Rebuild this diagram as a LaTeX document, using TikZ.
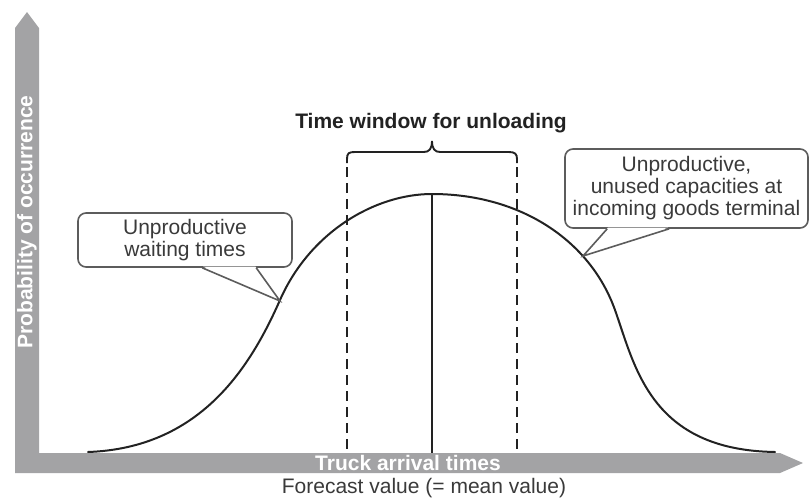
\documentclass[tikz,border=0pt]{standalone}
\usepackage{fontspec}
\setmainfont{Liberation Sans}
\usetikzlibrary{calc}
\definecolor{axisgray}{HTML}{A3A3A5}
\definecolor{ink}{HTML}{222222}
\definecolor{textgray}{HTML}{3A3A3A}
\definecolor{boxline}{HTML}{5C5C5C}

\begin{document}
\begin{tikzpicture}[x=1pt,y=-1pt,
  curveline/.style={draw=ink, line width=2pt},
  windowline/.style={draw=ink, line width=1.9pt, dash pattern=on 10pt off 6pt, dash phase=-4pt},
  braceline/.style={draw=ink, line width=1.9pt},
  calloutbox/.style={draw=boxline, line width=1.6pt, rounded corners=8pt, fill=white,
    align=center, text=textgray, font=\fontsize{21}{22}\selectfont, inner sep=0pt},
  pointerline/.style={draw=boxline, line width=1.6pt, line join=miter},
  axislabel/.style={text=white, font=\bfseries\fontsize{21}{22}\selectfont, inner sep=0pt},
  plainlabel/.style={text=textgray, font=\fontsize{21}{22}\selectfont, inner sep=0pt},
  titlelabel/.style={text=ink, font=\bfseries\fontsize{21}{22}\selectfont, inner sep=0pt},
]
\useasboundingbox (0,0) rectangle (811,501);

% L-shaped axis band with pointed ends
\fill[axisgray] (15,473) -- (15,28) -- (27,12) -- (39,28) -- (39,453)
  -- (780,453) -- (803,463) -- (780,473) -- cycle;
\node[axislabel, rotate=90] (ylabel) at (27,222) {Probability of occurrence};
\node[axislabel] (xlabel) at (408,463) {Truck arrival times};
\node[plainlabel] (forecast) at (424,488) {Forecast value (= mean value)};

% key points
\coordinate (leftend) at (88,452);
\coordinate (leftturn) at (280,300);
\coordinate (peak) at (432,194);
\coordinate (rightturn) at (615,310);
\coordinate (rightend) at (775,452);
\coordinate (meanfoot) at (432,453);
\coordinate (wl) at (347,163);
\coordinate (wlfoot) at (347,453);
\coordinate (wr) at (517,163);
\coordinate (wrfoot) at (517,453);
\coordinate (tipL) at (280,301);
\coordinate (tipR) at (583,256);

% distribution of arrival times
\draw[curveline, line cap=round] (leftend)
  .. controls (200,448) and (250,368) .. (leftturn)
  .. controls (310,232) and (375,194) .. (peak)
  .. controls (520,194) and (590,240) .. (rightturn)
  .. controls (635,366) and (650,450) .. (rightend);

% mean value
\draw[curveline] (peak) -- (meanfoot);

% time window for unloading
\draw[windowline] (wl) -- (wlfoot);
\draw[windowline] (wr) -- (wrfoot);
\draw[braceline] (wl) -- ++(0,-4) .. controls ++(0,-6) and ++(-6,0) .. ++(8,-7)
  -- (424,152) .. controls (429,152) and (432,149) .. (432,141)
  .. controls (432,149) and (435,152) .. (440,152)
  -- (509,152) .. controls (515,152) and (517,154) .. (517,159) -- (wr);
\node[titlelabel] (title) at (431,123) {Time window for unloading};

% left callout
\node[calloutbox, minimum width=214pt, minimum height=54pt] (lbox) at (185,240)
  {Unproductive\\waiting times};
\coordinate (lb1) at ($(lbox.south west)+(125,0)$);
\coordinate (lb2) at ($(lbox.south west)+(179,0)$);
\fill[white] ($(lb1)+(0.8,-1.2)$) -- (tipL) -- ($(lb2)+(-0.8,-1.2)$) -- cycle;
\draw[pointerline] (lb1) -- (tipL) -- (lb2);

% right callout
\node[calloutbox, minimum width=243pt, minimum height=79pt] (rbox) at (686.5,188.5)
  {Unproductive,\\unused capacities at\\incoming goods terminal};
\coordinate (rb1) at ($(rbox.south west)+(43,0)$);
\coordinate (rb2) at ($(rbox.south west)+(105,0)$);
\fill[white] ($(rb1)+(0.8,-1.2)$) -- (tipR) -- ($(rb2)+(-0.8,-1.2)$) -- cycle;
\draw[pointerline] (rb1) -- (tipR) -- (rb2);
\end{tikzpicture}
\end{document}
